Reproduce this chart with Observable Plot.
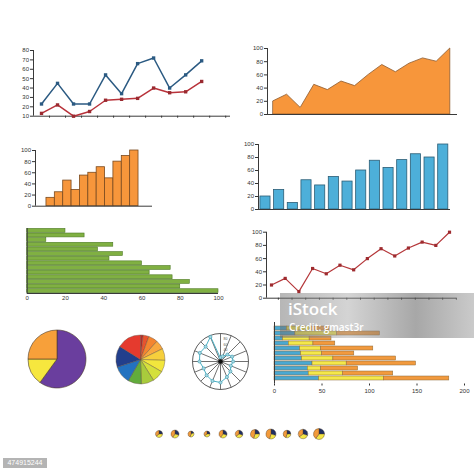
<!DOCTYPE html>
<html><head><meta charset="utf-8">
<script src="https://cdn.jsdelivr.net/npm/d3@7"></script>
<script src="https://cdn.jsdelivr.net/npm/@observablehq/plot@0.6"></script>
<style>
html,body{margin:0;padding:0;background:#fff;}
#root{position:relative;width:474px;height:474px;overflow:hidden;font-family:"Liberation Sans",Arial,sans-serif;}
.panel{position:absolute;}
.panel svg{overflow:visible;display:block;}
#wm{position:absolute;left:280px;top:293px;width:194px;height:45px;
 background:linear-gradient(90deg, rgba(110,110,110,0.5), rgba(160,160,160,0.45) 35%, rgba(95,95,95,0.55) 70%, rgba(150,150,150,0.5));}
#wm .a{position:absolute;left:8px;top:4px;color:#fff;font:600 17px "Open Sans",sans-serif;}
#wm .b{position:absolute;left:9px;top:27px;color:#fff;font:600 10px "Open Sans",sans-serif;}
#idbox{position:absolute;left:3px;top:458px;width:44px;height:10px;background:#b4b4b4;color:#fff;font:7px "Liberation Sans",Arial,sans-serif;text-align:center;line-height:10px;}
</style></head>
<body><div id="root"></div>
<script>
// ---- data ----
const blueSeries = [23,45,23,23,54,34,66,72,40,54,69];
const redSeries  = [13,22,10,15,27,28,29,40,35,36,47];
const lineYTicks = [10,20,30,40,50,60,70,80];
const growthValues = [20,30,10,45,37,50,43,60,75,64,77,85,80,100];
const blueBarValues = [20,30,10,45,37,50,43,60,75,64,76,85,80,100];
const greenBarValues = [20,30,10,45,37,50,43,60,75,64,76,85,80,100];
const redLineValues = [20,30,10,45,37,50,43,60,75,64,76,85,80,100];
const orangeBarValues = [15,25,46,29,55,60,70,50,80,90,100];
const ticks100 = [0,20,40,60,80,100];
const stackBlue   = [13,22,9,15,27,28,29,40,35,36,47];
const stackYellow = [25,44,28,26,22,22,33,36,14,36,68];
const stackOrange = [20,45,23,23,55,34,66,73,39,53,69];
const stackSeries = ["Series 1","Series 2","Series 3"];
const stackTicks = [0,50,100,150,200];
const mainPieValues = [60,15,25];
const mainPieColors = ["#6a3e9e","#f6e73e","#f7a03a"];
const rainbowValues = [6,14,22,22,28,28,28,30,32,42,50,58];
const rainbowColors = ["#b8292c","#e8532e","#f4852f","#f8a83f","#f6cf3c","#f2e63d","#d4e03c","#a9cb3c","#62ac3c","#2372c0","#223f8c","#e53a2e"];
const radarValues = [0.15,0.2,0.35,0.45,0.45,0.4,0.5,0.6,0.75,0.75,0.7,0.65,0.75,0.8,0.75,0.95];
const radarLabels = ["80","60","40"];
const smallPies = [[25,40,35],[30,30,40],[20,35,45],[25,40,35],[30,30,40],[30,35,35],[25,30,45],[30,25,45],[25,30,45],[30,35,35],[25,35,40]];
const smallPieRadii = [3.5,4,3,3,4,3.8,4.5,5,3.8,4.8,5.5];
const smallPieColors = ["#1f2f63","#f4e544","#f29a3a"];

// ---- helpers ----
const root = document.getElementById("root");
const FONT = "Liberation Sans, Arial, sans-serif";
const baseStyle = {fontSize:"6px", fontFamily:FONT, background:"transparent", color:"#333", overflow:"visible"};
function place(node, left, top){
  const d = document.createElement("div");
  d.className = "panel"; d.style.left = left+"px"; d.style.top = top+"px";
  d.appendChild(node); root.appendChild(d);
}
const AX = "#3a3a3a";
const idx = (d,i)=>i;

// ---- A: two line series ----
place(Plot.plot({
  width:235, height:90, marginLeft:33, marginRight:5, marginTop:10, marginBottom:14.3,
  x:{domain:[-0.5,11.8]}, y:{domain:[10,80]}, style:baseStyle,
  marks:[
    Plot.axisY({ticks:lineYTicks, tickSize:3, tickPadding:1.5, label:null}),
    Plot.axisX({ticks:d3.range(blueSeries.length+1).map(i=>i+0.5), tickSize:2, tickFormat:()=>"", label:null}),
    Plot.ruleX([-0.5],{y1:10,y2:80,stroke:AX}),
    Plot.ruleY([10],{x1:-0.5,x2:11.8,stroke:AX}),
    Plot.lineY(blueSeries,{x:idx,y:d=>d,stroke:"#2b5a82",strokeWidth:1.5}),
    Plot.dot(blueSeries,{x:idx,y:d=>d,symbol:"square",r:1.9,fill:"#2b5a82"}),
    Plot.lineY(redSeries,{x:idx,y:d=>d,stroke:"#b8323a",strokeWidth:1.5}),
    Plot.dot(redSeries,{x:idx,y:d=>d,symbol:"square",r:1.9,fill:"#9a2a30"})
  ]
}), 0, 40);

// ---- B: area ----
place(Plot.plot({
  width:239, height:90, marginLeft:32, marginRight:17, marginTop:8, marginBottom:16,
  x:{domain:[-0.44,13.53], axis:null}, y:{domain:[0,100]}, style:baseStyle,
  marks:[
    Plot.areaY(growthValues,{x:idx,y:d=>d,fill:"#f7963b",stroke:"#8d5a2e",strokeWidth:0.8}),
    Plot.axisY({ticks:ticks100, tickSize:3, tickPadding:1.5, label:null}),
    Plot.ruleX([-0.44],{y1:0,y2:100,stroke:AX}),
    Plot.ruleY([0],{x1:-0.44,x2:13.53,stroke:AX})
  ]
}), 235, 40);

// ---- C: orange bars ----
place(Plot.plot({
  width:235, height:80, marginLeft:35, marginRight:83, marginTop:10, marginBottom:14.3,
  x:{domain:[-1.31,12.67], axis:null}, y:{domain:[0,100]}, style:baseStyle,
  marks:[
    Plot.rect(orangeBarValues,{x1:idx,x2:(d,i)=>i+1,y1:0,y2:d=>d,fill:"#f7963b",stroke:"#7a4a1f",strokeWidth:0.8}),
    Plot.axisY({ticks:ticks100, tickSize:3, tickPadding:1.5, label:null}),
    Plot.ruleX([-1.31],{y1:0,y2:100,stroke:AX}),
    Plot.ruleY([0],{x1:-1.31,x2:12.67,stroke:AX})
  ]
}), 0, 140);

// ---- D: blue bars ----
place(Plot.plot({
  width:239, height:85, marginLeft:23, marginRight:24, marginTop:9, marginBottom:11,
  x:{domain:[-0.51,13.53], axis:null}, y:{domain:[0,100]}, style:baseStyle,
  marks:[
    Plot.rect(blueBarValues,{x1:(d,i)=>i-0.37,x2:(d,i)=>i+0.37,y1:0,y2:d=>d,fill:"#4dafd9",stroke:"#2b5d75",strokeWidth:0.8}),
    Plot.axisY({ticks:ticks100, tickSize:3, tickPadding:1.5, label:null}),
    Plot.ruleX([-0.51],{y1:0,y2:100,stroke:AX}),
    Plot.ruleY([0],{x1:-0.51,x2:13.53,stroke:AX})
  ]
}), 235, 135);

// ---- E: green horizontal bars ----
place(Plot.plot({
  width:235, height:90, marginLeft:26.7, marginRight:17, marginTop:8, marginBottom:17,
  x:{domain:[0,100]}, y:{domain:[0,greenBarValues.length], reverse:true, axis:null}, style:baseStyle,
  marks:[
    Plot.rect(greenBarValues,{x1:0,x2:d=>d,y1:(d,i)=>i+0.08,y2:(d,i)=>i+0.92,fill:"#80b042",stroke:"#4e7a25",strokeWidth:0.6}),
    Plot.axisX({ticks:ticks100, tickSize:0, tickPadding:2.5, label:null}),
    Plot.ruleX([0],{y1:0,y2:greenBarValues.length,stroke:AX}),
    Plot.ruleY([greenBarValues.length],{x1:0,x2:100,stroke:AX})
  ]
}), 0, 220);

// ---- F: red line ----
place(Plot.plot({
  width:239, height:90, marginLeft:31, marginRight:18, marginTop:11.7, marginBottom:12.3,
  x:{domain:[-0.365,13.51]}, y:{domain:[0,100]}, style:baseStyle,
  marks:[
    Plot.axisY({ticks:ticks100, tickSize:3, tickPadding:1.5, label:null}),
    Plot.axisX({ticks:d3.range(redLineValues.length).map(i=>i+0.5), tickSize:2, tickFormat:()=>"", label:null}),
    Plot.ruleX([-0.365],{y1:0,y2:100,stroke:AX}),
    Plot.ruleY([0],{x1:-0.365,x2:13.51,stroke:AX}),
    Plot.lineY(redLineValues,{x:idx,y:d=>d,stroke:"#b5373a",strokeWidth:1.2}),
    Plot.dot(redLineValues,{x:idx,y:d=>d,symbol:"square",r:1.8,fill:"#9e2b2f"})
  ]
}), 235, 220);

// ---- G: stacked horizontal bars ----
const stackTable = [];
stackBlue.forEach((b,i)=>{
  stackTable.push({row:i, series:stackSeries[0], value:b});
  stackTable.push({row:i, series:stackSeries[1], value:stackYellow[i]});
  stackTable.push({row:i, series:stackSeries[2], value:stackOrange[i]});
});
place(Plot.plot({
  width:209, height:85, marginLeft:9, marginRight:10, marginTop:7, marginBottom:16.5,
  x:{domain:[0,200]}, y:{domain:d3.range(stackBlue.length), padding:0.25, axis:null},
  color:{domain:stackSeries, range:["#4aa8d2","#f4e84a","#f29a3e"]},
  style:baseStyle,
  marks:[
    Plot.barX(stackTable,{x:"value",y:"row",fill:"series",stroke:"#8a6a3a",strokeWidth:0.5,order:stackSeries}),
    Plot.axisX({ticks:stackTicks, tickSize:2, tickPadding:2.5, label:null}),
    Plot.ruleX([0],{stroke:AX})
  ]
}), 265, 315);

// ---- pies ----
function pieMark(values, colors, stroke, sw){
  return (index, scales, vals, dims) => {
    const r = Math.min(dims.width, dims.height)/2 - 2;
    const g = d3.create("svg:g").attr("transform",`translate(${dims.width/2},${dims.height/2})`);
    const arcs = d3.pie().sort(null)(values);
    const arc = d3.arc().innerRadius(0).outerRadius(r);
    g.selectAll("path").data(arcs).join("path").attr("d",arc)
      .attr("fill",(d,i)=>colors[i]).attr("stroke",stroke).attr("stroke-width",sw);
    return g.node();
  };
}
place(Plot.plot({width:62,height:62,margin:0,axis:null,style:baseStyle,
  marks:[pieMark(mainPieValues, mainPieColors, "#4a3a2a", 0.6)]}), 26, 328);
place(Plot.plot({width:53,height:53,margin:0,axis:null,style:baseStyle,
  marks:[pieMark(rainbowValues, rainbowColors, "#5a4a3a", 0.4)]}), 114, 332.5);

// ---- polar chart ----
const ang = i => i*2*Math.PI/radarValues.length;
place(Plot.plot({
  width:60, height:60, margin:2, axis:null, x:{domain:[-1,1]}, y:{domain:[-1,1]}, style:baseStyle,
  marks:[
    Plot.link(radarValues,{x1:0,y1:0,x2:(d,i)=>Math.sin(ang(i)),y2:(d,i)=>Math.cos(ang(i)),stroke:"#333",strokeWidth:0.7}),
    Plot.dot([{x:0,y:0}],{x:"x",y:"y",r:28,fill:"none",stroke:"#333",strokeWidth:0.8}),
    Plot.line(radarValues,{x:(d,i)=>d*Math.sin(ang(i)),y:(d,i)=>d*Math.cos(ang(i)),curve:"linear-closed",stroke:"#4ab0c4",strokeWidth:1}),
    Plot.dot(radarValues,{x:(d,i)=>d*Math.sin(ang(i)),y:(d,i)=>d*Math.cos(ang(i)),r:1.6,fill:"#a8d8e2",stroke:"#3a9bb0",strokeWidth:0.6}),
    Plot.text(radarLabels,{x:0,y:d=>+d/100,dx:3,text:d=>d,fontSize:3.5,fill:"#555",textAnchor:"start"}),
    Plot.dot([{x:0,y:0}],{x:"x",y:"y",r:2.3,fill:"#111"})
  ]
}), 190, 331);

// ---- small pies row ----
place(Plot.plot({
  width:474, height:20, margin:0, axis:null,
  x:{domain:[0,smallPies.length-1], range:[159,319]}, style:baseStyle,
  marks:[
    Plot.dot(smallPies,{x:idx,r:0}),
    (index, scales, vals, dims) => {
      const g = d3.create("svg:g");
      smallPies.forEach((v,i)=>{
        const gg = g.append("g").attr("transform",`translate(${scales.x(i)},${dims.height/2})`);
        const arc = d3.arc().innerRadius(0).outerRadius(smallPieRadii[i]);
        gg.selectAll("path").data(d3.pie().sort(null)(v)).join("path").attr("d",arc)
          .attr("fill",(d,j)=>smallPieColors[j]).attr("stroke","#4a3a2a").attr("stroke-width",0.4);
      });
      return g.node();
    }
  ]
}), 0, 424);

// ---- watermark & id ----
const wm = document.createElement("div"); wm.id="wm";
wm.innerHTML = '<div class="a">iStock</div><div class="b">Credit: gmast3r</div>';
root.appendChild(wm);
const idb = document.createElement("div"); idb.id="idbox"; idb.textContent="474915244";
root.appendChild(idb);
</script>
</body></html>
